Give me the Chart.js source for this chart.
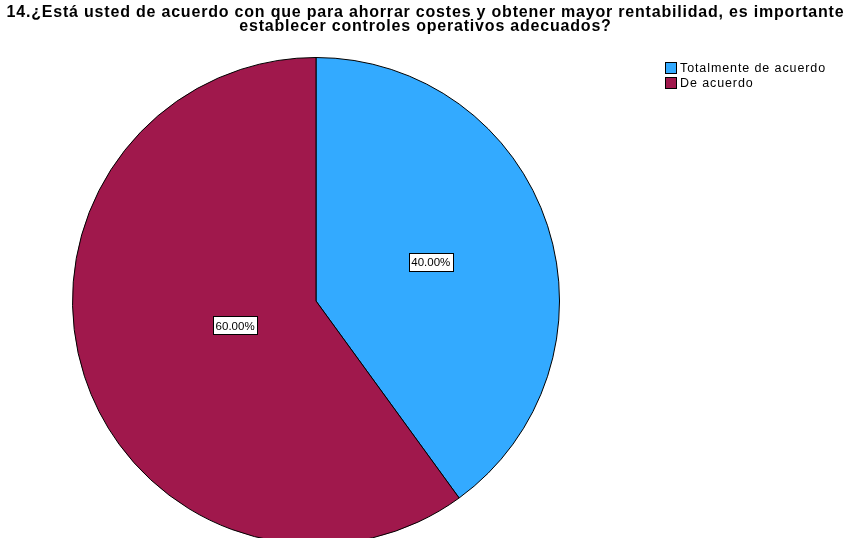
<!DOCTYPE html>
<html>
<head>
<meta charset="utf-8">
<script src="https://cdn.jsdelivr.net/npm/chart.js@4"></script>
<style>
html,body{margin:0;padding:0;background:#fff;overflow:hidden;width:851px;height:538px;}
#wrap{position:relative;width:851px;height:538px;overflow:hidden;}
#title{position:absolute;left:0;top:5px;width:851px;text-align:center;font-family:"Liberation Sans",Arial,sans-serif;font-weight:bold;font-size:16px;letter-spacing:0.8px;line-height:13.5px;color:#000;white-space:nowrap;}
#legend{position:absolute;left:665px;top:60px;font-family:"Liberation Sans",Arial,sans-serif;font-size:12.5px;letter-spacing:0.9px;color:#000;}
.li{display:flex;align-items:center;height:15.5px;}
.sw{width:12px;height:12px;border:1px solid #000;margin-right:3px;box-sizing:border-box;}
canvas{position:absolute;left:0;top:0;}
</style>
</head>
<body>
<div id="wrap">
<canvas id="c" width="851" height="620" style="width:851px;height:620px"></canvas>
<div id="title"></div>
<div id="legend"></div>
</div>
<script>
const titleLines = ["14.¿Está usted de acuerdo con que para ahorrar costes y obtener mayor rentabilidad, es importante", "establecer controles operativos adecuados?"];
const categories = ["Totalmente de acuerdo", "De acuerdo"];
const values = [40.00, 60.00];
const colors = ["#33AAFF", "#A0184C"];

document.getElementById('title').innerHTML = titleLines.join('<br>');
const lg = document.getElementById('legend');
categories.forEach((c, i) => {
  const d = document.createElement('div'); d.className = 'li';
  const s = document.createElement('span'); s.className = 'sw'; s.style.background = colors[i];
  const t = document.createElement('span'); t.textContent = c;
  d.appendChild(s); d.appendChild(t); lg.appendChild(d);
});

const labelRadius = [0.5, 0.345];
const labelPlugin = {
  id: 'boxLabels',
  afterDatasetsDraw(chart) {
    const ctx = chart.ctx;
    const meta = chart.getDatasetMeta(0);
    const total = values.reduce((a, b) => a + b, 0);
    ctx.save();
    ctx.font = '11.5px "Liberation Sans", Arial, sans-serif';
    ctx.textAlign = 'center';
    ctx.textBaseline = 'middle';
    meta.data.forEach((arc, i) => {
      const p = arc.getProps(['x', 'y', 'startAngle', 'endAngle', 'outerRadius'], true);
      const mid = (p.startAngle + p.endAngle) / 2;
      const r = p.outerRadius * labelRadius[i];
      const x = p.x + Math.cos(mid) * r - 1;
      const y = p.y + Math.sin(mid) * r - 1.5;
      const txt = (values[i] / total * 100).toFixed(2) + '%';
      const w = ctx.measureText(txt).width + 5;
      const h = 18;
      ctx.fillStyle = '#fff';
      ctx.fillRect(Math.round(x - w / 2) + 0.5, Math.round(y - h / 2) + 0.5, Math.round(w), h);
      ctx.strokeStyle = '#000';
      ctx.lineWidth = 1;
      ctx.strokeRect(Math.round(x - w / 2) + 0.5, Math.round(y - h / 2) + 0.5, Math.round(w), h);
      ctx.fillStyle = '#000';
      ctx.fillText(txt, x, y + 1);
    });
    ctx.restore();
  }
};

new Chart(document.getElementById('c'), {
  type: 'pie',
  data: {
    labels: categories,
    datasets: [{
      data: values,
      backgroundColor: colors,
      borderColor: '#000',
      borderWidth: 1,
      borderJoinStyle: 'miter'
    }]
  },
  options: {
    responsive: false,
    animation: false,
    layout: { padding: { left: 72, top: 57, right: 291, bottom: 75 } },
    plugins: { legend: { display: false }, tooltip: { enabled: false }, title: { display: false } }
  },
  plugins: [labelPlugin]
});
</script>
</body>
</html>
